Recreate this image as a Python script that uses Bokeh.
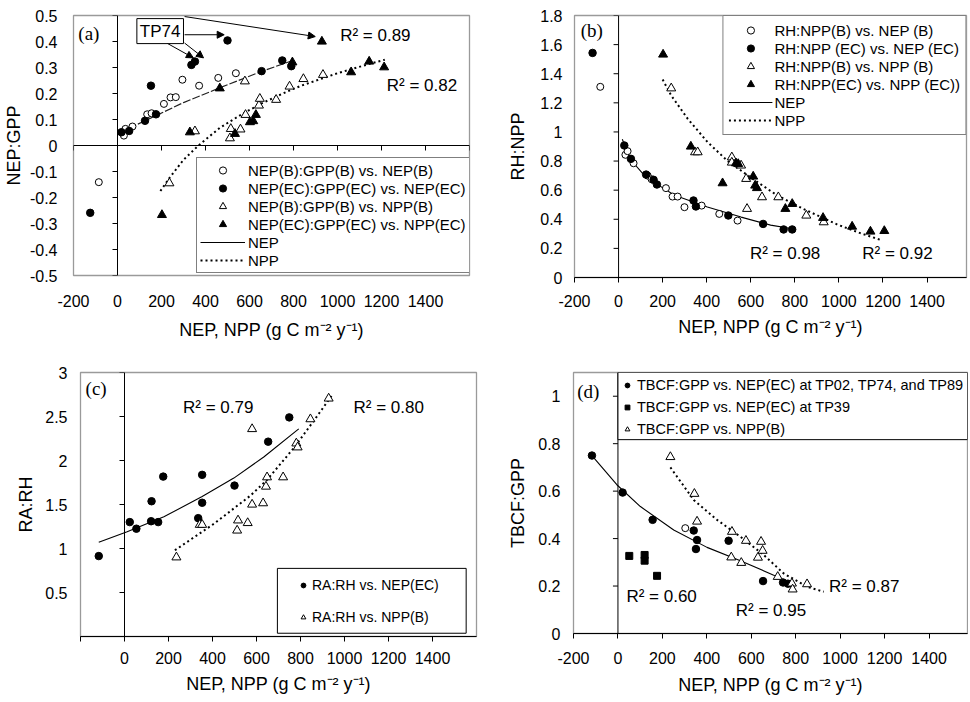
from bokeh.plotting import figure
from bokeh.layouts import column, row
from bokeh.models import (Span, Label, Arrow, NormalHead, Legend, LegendItem,
                          FixedTicker, BoxAnnotation, Range1d)
from bokeh.embed import file_html
from bokeh.resources import INLINE

SANS = "Liberation Sans"
SERIF = "Liberation Serif"

# ---------------- shared axis data ----------------
X_TICKS = [-200, 0, 200, 400, 600, 800, 1000, 1200, 1400]
X_LABELS = ["-200", "0", "200", "400", "600", "800", "1000", "1200", "1400"]
X_LABELS_C = ["", "0", "200", "400", "600", "800", "1000", "1200", "1400"]
X_TITLE = "NEP, NPP (g C m\u207b\u00b2 y\u207b\u00b9)"

# ---------------- panel (a) ----------------
A_Y_TICKS = [0.5, 0.4, 0.3, 0.2, 0.1, 0, -0.1, -0.2, -0.3, -0.4, -0.5]
A_Y_LABELS = ["0.5", "0.4", "0.3", "0.2", "0.1", "0", "-0.1", "-0.2", "-0.3", "-0.4", "-0.5"]
A_NEPB_X = [-85, 29, 36, 68, 135, 155, 211, 241, 265, 295, 371, 458, 538]
A_NEPB_Y = [-0.141, 0.038, 0.064, 0.073, 0.12, 0.124, 0.16, 0.185, 0.186, 0.253, 0.23, 0.26, 0.278]
A_NEPEC_X = [-124, 18, 53, 125, 152, 175, 336, 352, 500, 655, 749, 790]
A_NEPEC_Y = [-0.259, 0.051, 0.056, 0.095, 0.23, 0.12, 0.31, 0.323, 0.404, 0.286, 0.327, 0.305]
A_NPPB_X = [236, 352, 511, 515, 559, 582, 579, 643, 647, 721, 782, 845, 934]
A_NPPB_Y = [-0.145, 0.055, 0.028, 0.064, 0.062, 0.118, 0.247, 0.154, 0.18, 0.176, 0.227, 0.256, 0.272]
A_NPPEC_X = [202, 329, 465, 534, 602, 617, 629, 795, 929, 1062, 1144, 1212]
A_NPPEC_Y = [-0.267, 0.051, 0.22, 0.045, 0.09, 0.094, 0.118, 0.32, 0.4, 0.282, 0.323, 0.301]
A_FIT_NEP_X = [10, 125, 175, 300, 465, 655, 790]
A_FIT_NEP_Y = [0.05, 0.095, 0.115, 0.165, 0.222, 0.285, 0.325]
A_FIT_NPP_X = [195, 236, 300, 368, 465, 555, 650, 770, 835, 1000, 1150, 1215]
A_FIT_NPP_Y = [-0.175, -0.125, -0.055, 0.0, 0.068, 0.115, 0.16, 0.207, 0.23, 0.278, 0.315, 0.33]
A_R2_TEXT = ["R\u00b2 = 0.89", "R\u00b2 = 0.82"]
A_R2_X = [1012, 1224]
A_R2_Y = [0.423, 0.23]
A_TP74_XY = (194, 0.44)
A_ARROWS = [  # (x_start, y_start, x_end, y_end)
    (305, 0.496, 899, 0.419),
    (305, 0.426, 485, 0.426),
    (224, 0.394, 345, 0.337),
    (305, 0.394, 391, 0.337),
]

# ---------------- panel (b) ----------------
B_Y_TICKS = [0, 0.2, 0.4, 0.6, 0.8, 1.0, 1.2, 1.4, 1.6, 1.8]
B_Y_LABELS = ["0", "0.2", "0.4", "0.6", "0.8", "1", "1.2", "1.4", "1.6", "1.8"]
B_NEPB_X = [-83, 31, 41, 68, 132, 150, 215, 245, 268, 299, 377, 457, 540]
B_NEPB_Y = [1.31, 0.843, 0.868, 0.785, 0.70, 0.675, 0.614, 0.556, 0.556, 0.483, 0.494, 0.437, 0.391]
B_NEPEC_X = [-118, 26, 56, 125, 159, 174, 340, 351, 498, 656, 749, 788]
B_NEPEC_Y = [1.543, 0.907, 0.815, 0.707, 0.671, 0.639, 0.529, 0.488, 0.426, 0.368, 0.33, 0.33]
B_NPPB_X = [239, 347, 359, 514, 514, 556, 579, 583, 651, 725, 852, 931]
B_NPPB_Y = [1.30, 0.861, 0.861, 0.826, 0.79, 0.77, 0.678, 0.472, 0.552, 0.552, 0.426, 0.38]
B_NPPEC_X = [202, 328, 472, 533, 543, 611, 620, 628, 757, 788, 928, 1060, 1143, 1206]
B_NPPEC_Y = [1.532, 0.9, 0.648, 0.785, 0.78, 0.694, 0.632, 0.615, 0.472, 0.506, 0.41, 0.35, 0.316, 0.32]
B_FIT_NEP_X = [17, 37, 66, 106, 165, 254, 403, 556, 690, 789]
B_FIT_NEP_Y = [0.95, 0.87, 0.79, 0.72, 0.65, 0.565, 0.485, 0.415, 0.36, 0.335]
B_FIT_NPP_X = [200, 239, 314, 404, 495, 616, 719, 840, 991, 1097, 1195]
B_FIT_NPP_Y = [1.36, 1.25, 1.09, 0.93, 0.80, 0.67, 0.565, 0.47, 0.365, 0.305, 0.255]
B_R2_TEXT = ["R\u00b2 = 0.98", "R\u00b2 = 0.92"]
B_R2_X = [596, 1106]
B_R2_Y = [0.168, 0.168]

# ---------------- panel (c) ----------------
C_Y_TICKS = [0, 0.5, 1, 1.5, 2, 2.5, 3]
C_Y_LABELS = ["", "0.5", "1", "1.5", "2", "2.5", "3"]
C_NEPEC_X = [-117, 24, 54, 121, 123, 153, 176, 335, 353, 353, 500, 653, 749]
C_NEPEC_Y = [0.914, 1.30, 1.225, 1.31, 1.537, 1.30, 1.817, 1.345, 1.837, 1.52, 1.715, 2.214, 2.49]
C_NPPB_X = [236, 342, 353, 512, 516, 560, 580, 630, 580, 643, 648, 721, 781, 787, 845, 928]
C_NPPB_Y = [0.90, 1.27, 1.27, 1.205, 1.32, 1.29, 1.50, 1.515, 2.358, 1.704, 1.81, 1.81, 2.195, 2.15, 2.47, 2.705]
C_FIT_NEP_X = [-117, 12, 179, 353, 497, 633, 792]
C_FIT_NEP_Y = [1.07, 1.19, 1.36, 1.59, 1.80, 2.04, 2.36]
C_FIT_NPP_X = [229, 406, 572, 648, 769, 860, 943]
C_FIT_NPP_Y = [0.98, 1.28, 1.60, 1.78, 2.14, 2.45, 2.74]
C_R2_TEXT = ["R\u00b2 = 0.79", "R\u00b2 = 0.80"]
C_R2_X = [266, 1041]
C_R2_Y = [2.60, 2.60]

# ---------------- panel (d) ----------------
D_Y_TICKS = [0, 0.2, 0.4, 0.6, 0.8, 1.0]
D_Y_LABELS = ["0", "0.2", "0.4", "0.6", "0.8", "1"]
D_NEPEC_X = [-117, 21, 156, 341, 356, 351, 498, 653, 743, 765]
D_NEPEC_Y = [0.75, 0.594, 0.479, 0.434, 0.394, 0.356, 0.391, 0.221, 0.215, 0.21]
D_TP39_X = [51, 120, 120, 176]
D_TP39_Y = [0.327, 0.331, 0.307, 0.243]
D_NPPB_X = [236, 344, 356, 510, 513, 555, 576, 630, 644, 651, 719, 783, 786, 851]
D_NPPB_Y = [0.744, 0.589, 0.472, 0.321, 0.429, 0.298, 0.391, 0.32, 0.387, 0.349, 0.239, 0.211, 0.186, 0.208]
D_OPEN_X = [303]
D_OPEN_Y = [0.444]
D_FIT_NEP_X = [-117, -5, 101, 251, 401, 551, 701, 790]
D_FIT_NEP_Y = [0.75, 0.627, 0.535, 0.436, 0.363, 0.307, 0.246, 0.205]
D_FIT_NPP_X = [236, 341, 446, 551, 656, 746, 851, 926]
D_FIT_NPP_Y = [0.70, 0.563, 0.479, 0.408, 0.331, 0.253, 0.197, 0.176]
D_R2_TEXT = ["R\u00b2 = 0.60", "R\u00b2 = 0.95", "R\u00b2 = 0.87"]
D_R2_X = [38, 530, 950]
D_R2_Y = [0.158, 0.098, 0.196]


# ---------------- helpers ----------------
def make_fig(xr, yr, fw, fh, bl, br, bt, bb):
    p = figure(frame_width=fw, frame_height=fh,
               x_range=Range1d(*xr), y_range=Range1d(*yr),
               output_backend="svg", toolbar_location=None, title=None,
               min_border_left=bl, min_border_right=br,
               min_border_top=bt, min_border_bottom=bb)
    p.grid.visible = False
    p.outline_line_color = "#9a9a9a"
    p.outline_line_width = 1.3
    p.background_fill_color = "white"
    p.border_fill_color = "white"
    return p


def style_axis(ax, ticks, labels, title, label_standoff, title_standoff,
               show_line=False):
    ax.ticker = FixedTicker(ticks=ticks)
    ax.major_label_overrides = {t: l for t, l in zip(ticks, labels)}
    ax.minor_tick_line_color = None
    if show_line:
        ax.axis_line_color = "black"
        ax.major_tick_line_color = "black"
        ax.major_tick_out = 5
        ax.major_tick_in = 0
    else:
        ax.axis_line_color = None
        ax.major_tick_line_color = None
        ax.major_tick_out = 0
        ax.major_tick_in = 0
    ax.major_label_standoff = label_standoff
    ax.major_label_text_font = SANS
    ax.major_label_text_font_size = "16px"
    ax.major_label_text_color = "black"
    ax.axis_label = title
    ax.axis_label_standoff = title_standoff
    ax.axis_label_text_font = SANS
    ax.axis_label_text_font_size = "18px"
    ax.axis_label_text_font_style = "normal"
    ax.axis_label_text_color = "black"


def y_axis_at_zero(p, ticks, xr, fw):
    sp = Span(location=0, dimension="height", line_color="black", line_width=1)
    sp.level = "underlay"
    p.add_layout(sp)
    dx = 5.0 * (xr[1] - xr[0]) / fw
    n = len(ticks)
    p.segment(x0=[0] * n, x1=[-dx] * n, y0=ticks, y1=ticks,
              line_color="black", line_width=1)


def x_axis_at_zero(p, ticks, yr, fh):
    sp = Span(location=0, dimension="width", line_color="black", line_width=1)
    sp.level = "underlay"
    p.add_layout(sp)
    dy = 5.0 * (yr[1] - yr[0]) / fh
    n = len(ticks)
    p.segment(x0=ticks, x1=ticks, y0=[0] * n, y1=[-dy] * n,
              line_color="black", line_width=1)


def pts(p, x, y, marker, filled, size):
    return p.scatter(x, y, marker=marker, size=size,
                     fill_color="black" if filled else "white",
                     line_color="black", line_width=1)


def fit_line(p, x, y, dotted, dash=None):
    if dotted:
        return p.line(x, y, line_color="black", line_width=2, line_dash="2 3")
    if dash:
        return p.line(x, y, line_color="#222222", line_width=1.2, line_dash=dash)
    return p.line(x, y, line_color="black", line_width=1.1)


def add_text(p, xs, ys, texts, size="17px"):
    for x, y, t in zip(xs, ys, texts):
        p.add_layout(Label(x=x, y=y, text=t, text_font=SANS, text_font_size=size,
                           text_color="black", text_baseline="middle", text_align="left"))


def panel_tag(p, x, y, t):
    p.add_layout(Label(x=x, y=y, text=t, text_font=SERIF, text_font_size="19px",
                       text_color="black", text_baseline="middle", text_align="left"))


def style_legend(leg, font_size):
    leg.label_text_font = SANS
    leg.label_text_font_size = font_size
    leg.label_text_color = "black"
    leg.margin = 0
    leg.background_fill_color = "white"
    leg.background_fill_alpha = 1.0


# ================= panel (a) =================
AXR = (-200, 1600)
AYR = (-0.5, 0.5)
pa = make_fig(AXR, AYR, 396, 260, 73, 11, 15, 75)
style_axis(pa.xaxis[0], X_TICKS, X_LABELS, X_TITLE, 19, 10)
style_axis(pa.yaxis[0], A_Y_TICKS, A_Y_LABELS, "NEP:GPP", 16, 3)
y_axis_at_zero(pa, A_Y_TICKS, AXR, 396)
x_axis_at_zero(pa, X_TICKS + [1600], AYR, 260)
fit_line(pa, A_FIT_NEP_X, A_FIT_NEP_Y, False, dash="8 2")
ra_npp = fit_line(pa, A_FIT_NPP_X, A_FIT_NPP_Y, True)
# solid sample for the legend (one-point line, draws nothing in the plot)
ra_nep = pa.line(x=A_FIT_NEP_X[:1], y=A_FIT_NEP_Y[:1], line_color="black", line_width=1.1)
ra1 = pts(pa, A_NEPB_X, A_NEPB_Y, "circle", False, 7)
ra2 = pts(pa, A_NEPEC_X, A_NEPEC_Y, "circle", True, 7.5)
ra3 = pts(pa, A_NPPB_X, A_NPPB_Y, "triangle", False, 9)
ra4 = pts(pa, A_NPPEC_X, A_NPPEC_Y, "triangle", True, 9)
panel_tag(pa, -178, 0.431, "(a)")
add_text(pa, A_R2_X, A_R2_Y, A_R2_TEXT)
for xs, ys, xe, ye in A_ARROWS:
    pa.add_layout(Arrow(x_start=xs, y_start=ys, x_end=xe, y_end=ye,
                        line_color="black", line_width=1,
                        end=NormalHead(size=7, fill_color="black", line_color="black")))
pa.add_layout(Label(x=A_TP74_XY[0], y=A_TP74_XY[1], text="TP74", text_font=SANS,
                    text_font_size="17px", text_color="black", text_align="center",
                    text_baseline="middle", border_line_color="black",
                    border_line_width=1, background_fill_color="white", padding=3))
leg_a = Legend(items=[
    LegendItem(label="NEP(B):GPP(B) vs. NEP(B)", renderers=[ra1]),
    LegendItem(label="NEP(EC):GPP(EC) vs. NEP(EC)", renderers=[ra2]),
    LegendItem(label="NEP(B):GPP(B) vs. NPP(B)", renderers=[ra3]),
    LegendItem(label="NEP(EC):GPP(EC) vs. NPP(EC)", renderers=[ra4]),
    LegendItem(label="NEP", renderers=[ra_nep]),
    LegendItem(label="NPP", renderers=[ra_npp]),
], location=(123, 2))
style_legend(leg_a, "15px")
leg_a.glyph_width = 45
leg_a.glyph_height = 18
leg_a.label_height = 18
leg_a.spacing = 0
leg_a.padding = 3
leg_a.label_standoff = 3
leg_a.border_line_color = "black"
leg_a.border_line_width = 1
pa.add_layout(leg_a)

# ================= panel (b) =================
BXR = (-200, 1579)
BYR = (0, 1.8)
pb = make_fig(BXR, BYR, 392, 262, 94, 2, 15, 73)
style_axis(pb.xaxis[0], X_TICKS, X_LABELS, X_TITLE, 12, 7, show_line=True)
style_axis(pb.yaxis[0], B_Y_TICKS, B_Y_LABELS, "RH:NPP", 12, 9)
y_axis_at_zero(pb, B_Y_TICKS, BXR, 392)
rb_nep = fit_line(pb, B_FIT_NEP_X, B_FIT_NEP_Y, False)
rb_npp = fit_line(pb, B_FIT_NPP_X, B_FIT_NPP_Y, True)
rb1 = pts(pb, B_NEPB_X, B_NEPB_Y, "circle", False, 7)
rb2 = pts(pb, B_NEPEC_X, B_NEPEC_Y, "circle", True, 7.5)
rb3 = pts(pb, B_NPPB_X, B_NPPB_Y, "triangle", False, 9)
rb4 = pts(pb, B_NPPEC_X, B_NPPEC_Y, "triangle", True, 9)
panel_tag(pb, -172, 1.696, "(b)")
add_text(pb, B_R2_X, B_R2_Y, B_R2_TEXT)
leg_b = Legend(items=[
    LegendItem(label="RH:NPP(B) vs. NEP (B)", renderers=[rb1]),
    LegendItem(label="RH:NPP (EC) vs. NEP (EC)", renderers=[rb2]),
    LegendItem(label="RH:NPP(B) vs. NPP (B)", renderers=[rb3]),
    LegendItem(label="RH:NPP(EC) vs. NPP (EC))", renderers=[rb4]),
    LegendItem(label="NEP", renderers=[rb_nep]),
    LegendItem(label="NPP", renderers=[rb_npp]),
], location="top_right")
style_legend(leg_b, "15px")
leg_b.glyph_width = 44
leg_b.glyph_height = 18
leg_b.label_height = 18
leg_b.spacing = 0
leg_b.padding = 5
leg_b.label_standoff = 2
leg_b.border_line_color = "black"
leg_b.border_line_width = 1
pb.add_layout(leg_b)

# ================= panel (c) =================
CXR = (-200, 1600)
CYR = (0, 3)
pc = make_fig(CXR, CYR, 396, 264, 80, 4, 22, 64)
style_axis(pc.xaxis[0], X_TICKS, X_LABELS_C, X_TITLE, 10, 7, show_line=True)
style_axis(pc.yaxis[0], C_Y_TICKS, C_Y_LABELS, "RA:RH", 13, 6)
y_axis_at_zero(pc, C_Y_TICKS, CXR, 396)
rc_nep = fit_line(pc, C_FIT_NEP_X, C_FIT_NEP_Y, False)
rc_npp = fit_line(pc, C_FIT_NPP_X, C_FIT_NPP_Y, True)
rc1 = pts(pc, C_NEPEC_X, C_NEPEC_Y, "circle", True, 7.5)
rc2 = pts(pc, C_NPPB_X, C_NPPB_Y, "triangle", False, 9)
panel_tag(pc, -177, 2.815, "(c)")
add_text(pc, C_R2_X, C_R2_Y, C_R2_TEXT)
pc.add_layout(BoxAnnotation(left=695, right=1553, bottom=0.037, top=0.774,
                            fill_color="white", fill_alpha=1.0,
                            line_color="black", line_width=1, line_alpha=1.0))
leg_c = Legend(items=[
    LegendItem(label="RA:RH vs. NEP(EC)", renderers=[rc1]),
    LegendItem(label="RA:RH vs. NPP(B)", renderers=[rc2]),
], location=(217, 9))
style_legend(leg_c, "14px")
leg_c.background_fill_alpha = 0
leg_c.border_line_color = None
leg_c.glyph_width = 12
leg_c.glyph_height = 20
leg_c.label_height = 20
leg_c.spacing = 12
leg_c.padding = 0
leg_c.label_standoff = 3
pc.add_layout(leg_c)

# ================= panel (d) =================
DXR = (-200, 1573)
DYR = (0, 1.1)
pd_ = make_fig(DXR, DYR, 394, 261, 93, 1, 22, 67)
style_axis(pd_.xaxis[0], X_TICKS, X_LABELS, X_TITLE, 13, 8, show_line=True)
style_axis(pd_.yaxis[0], D_Y_TICKS, D_Y_LABELS, "TBCF:GPP", 13, 7)
y_axis_at_zero(pd_, D_Y_TICKS, DXR, 394)
rd_nep = fit_line(pd_, D_FIT_NEP_X, D_FIT_NEP_Y, False)
rd_npp = fit_line(pd_, D_FIT_NPP_X, D_FIT_NPP_Y, True)
rd_open = pts(pd_, D_OPEN_X, D_OPEN_Y, "circle", False, 7)
rd1 = pts(pd_, D_NEPEC_X, D_NEPEC_Y, "circle", True, 7.5)
rd2 = pts(pd_, D_TP39_X, D_TP39_Y, "square", True, 7)
rd3 = pts(pd_, D_NPPB_X, D_NPPB_Y, "triangle", False, 9)
panel_tag(pd_, -183, 1.02, "(d)")
add_text(pd_, D_R2_X, D_R2_Y, D_R2_TEXT)
pd_.add_layout(BoxAnnotation(left=0, right=DXR[1], bottom=0.817, top=DYR[1],
                             fill_color="white", fill_alpha=1.0,
                             line_color="black", line_width=1, line_alpha=1.0))
leg_d = Legend(items=[
    LegendItem(label="TBCF:GPP vs. NEP(EC) at TP02, TP74, and TP89", renderers=[rd1]),
    LegendItem(label="TBCF:GPP vs. NEP(EC) at TP39", renderers=[rd2]),
    LegendItem(label="TBCF:GPP vs. NPP(B)", renderers=[rd3]),
], location=(48, 194))
style_legend(leg_d, "14.5px")
leg_d.background_fill_alpha = 0
leg_d.border_line_color = None
leg_d.glyph_width = 12
leg_d.glyph_height = 20
leg_d.label_height = 20
leg_d.spacing = 2
leg_d.padding = 0
leg_d.label_standoff = 4
pd_.add_layout(leg_d)

layout = column(row(pa, pb), row(pc, pd_))
open("out.html", "w").write(file_html(layout, INLINE))
